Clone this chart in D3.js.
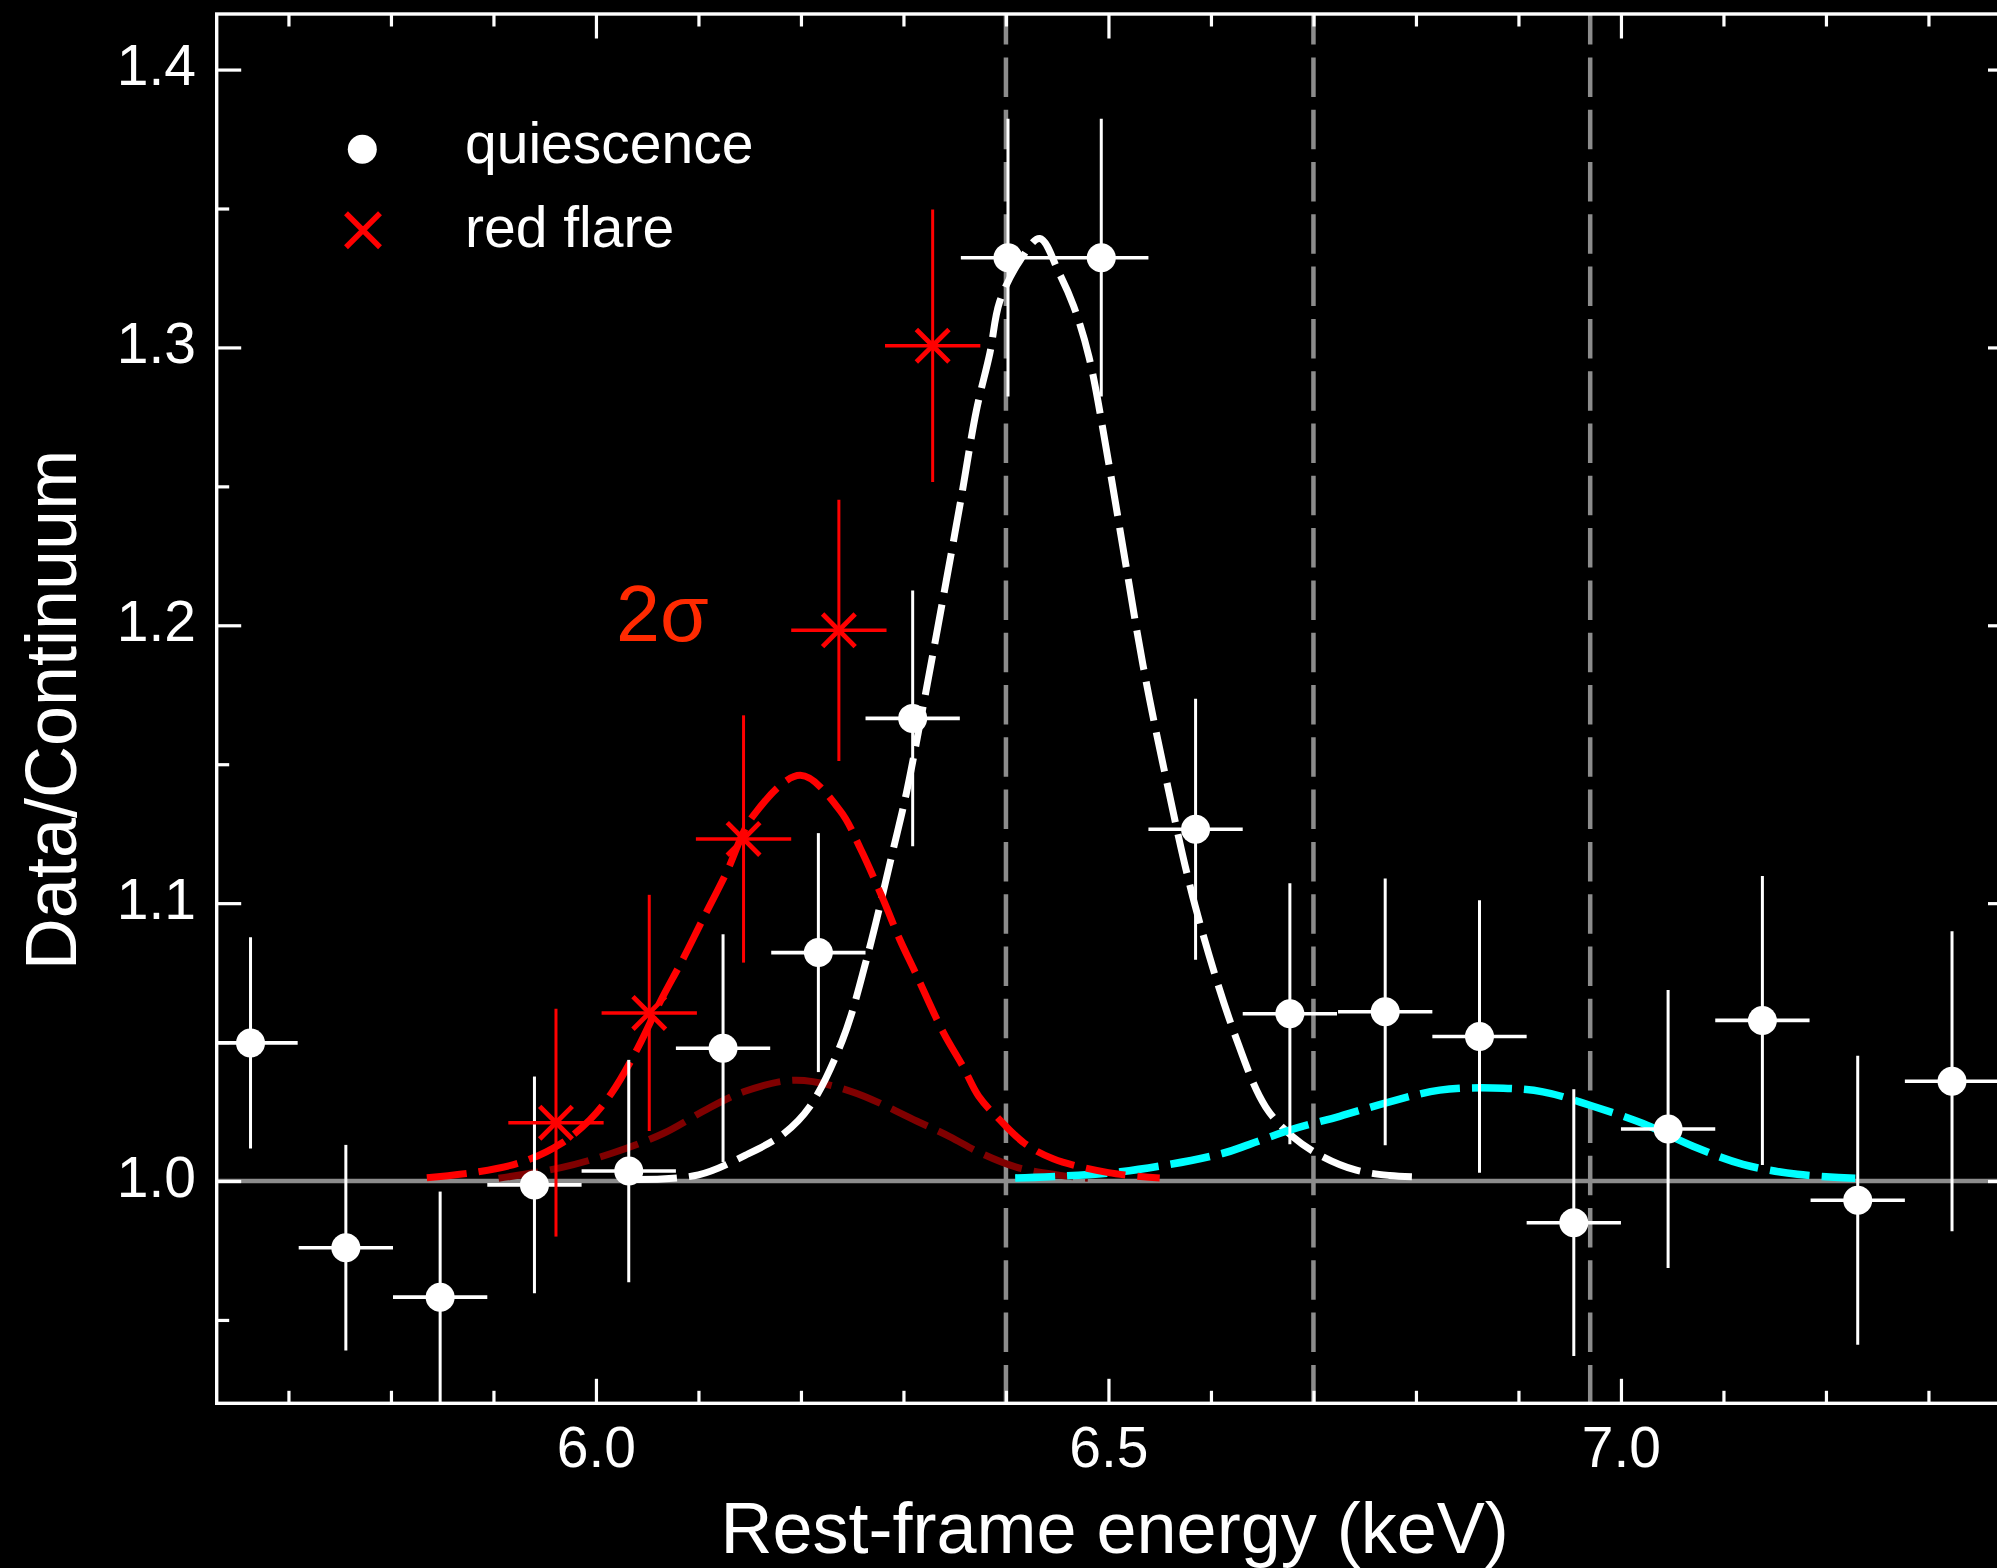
<!DOCTYPE html>
<html><head><meta charset="utf-8">
<script src="https://cdn.jsdelivr.net/npm/d3@7"></script>
<style>html,body{margin:0;padding:0;background:#000;} svg{display:block;}</style>
</head><body>
<svg id="chart" width="1997" height="1568"></svg>
<script>
// ---------------- data ----------------
const quiescenceEnergy = [5.663, 5.756, 5.848, 5.940, 6.032, 6.124, 6.217, 6.309, 6.402, 6.493, 6.585, 6.677, 6.770, 6.862, 6.954, 7.046, 7.138, 7.231, 7.323];
const quiescenceRatio  = [1.0497, 0.9760, 0.9582, 0.9986, 1.0036, 1.0478, 1.0822, 1.1665, 1.3323, 1.3323, 1.1266, 1.0602, 1.0609, 1.0520, 0.9850, 1.0187, 1.0578, 0.9931, 1.0359];
const quiescenceError  = [0.038, 0.037, 0.038, 0.039, 0.040, 0.041, 0.043, 0.046, 0.050, 0.050, 0.047, 0.047, 0.048, 0.049, 0.048, 0.050, 0.052, 0.052, 0.054];
const quiescenceBinHalf = 0.046;

const flareEnergy = [5.961, 6.052, 6.144, 6.237, 6.3285];
const flareRatio  = [1.021, 1.0605, 1.1231, 1.1982, 1.3006];
const flareError  = [0.041, 0.0425, 0.0445, 0.047, 0.049];
const flareBinHalf = 0.0465;

// model curves [energy, ratio]
const quiescenceModel = [[6.04,1.0005],[6.10,1.0022],[6.146,1.0093],[6.1835,1.0171],[6.2085,1.0267],[6.2406,1.0508],[6.2638,1.0795],[6.2898,1.119],[6.3028,1.1395],[6.3233,1.1789],[6.3419,1.2163],[6.356,1.2451],[6.3712,1.2774],[6.3843,1.2979],[6.3938,1.3164],[6.4139,1.3314],[6.433,1.3392],[6.452,1.3267],[6.466,1.3149],[6.481,1.2966],[6.4995,1.26],[6.5165,1.2228],[6.5337,1.1857],[6.554,1.1486],[6.5846,1.099],[6.6238,1.0522],[6.6533,1.0267],[6.680,1.0159],[6.7093,1.0087],[6.7418,1.0039],[6.7743,1.002],[6.802,1.0015]];
const flareModel = [[5.835,1.0012],[5.885,1.0033],[5.9285,1.0069],[5.966,1.0135],[5.994,1.022],[6.015,1.0315],[6.041,1.048],[6.0628,1.0646],[6.0846,1.0797],[6.1033,1.0935],[6.1273,1.111],[6.1535,1.1315],[6.1994,1.146],[6.2378,1.1335],[6.2582,1.1195],[6.28,1.1015],[6.2963,1.0870],[6.311,1.0755],[6.3385,1.0538],[6.3581,1.0412],[6.3734,1.0305],[6.394,1.022],[6.418,1.0136],[6.446,1.008],[6.50,1.003],[6.55,1.0011]];
const flareBroadModel = [[5.905,1.001],[5.966,1.0048],[6.0155,1.0100],[6.065,1.017],[6.1089,1.026],[6.1447,1.0322],[6.1948,1.0363],[6.2493,1.0322],[6.3128,1.0216],[6.345,1.016],[6.375,1.0101],[6.41,1.005],[6.45,1.0022],[6.48,1.001]];
const highModel = [[6.409,1.0011],[6.5117,1.0033],[6.611,1.0099],[6.6377,1.0132],[6.6768,1.0183],[6.7256,1.0233],[6.7744,1.0285],[6.8232,1.0327],[6.8751,1.0335],[6.9239,1.0321],[6.9727,1.0269],[7.0215,1.0207],[7.0703,1.0125],[7.119,1.006],[7.1722,1.0024],[7.2286,1.001]];

const lineEnergies = [6.40, 6.70, 6.97];
const xMajorTicks = [6.0, 6.5, 7.0];
const xMinorTicks = [5.7, 5.8, 5.9, 6.1, 6.2, 6.3, 6.4, 6.6, 6.7, 6.8, 6.9, 7.1, 7.2, 7.3];
const yMajorTicks = [1.0, 1.1, 1.2, 1.3, 1.4];
const yMinorTicks = [0.95, 1.05, 1.15, 1.25, 1.35];
const legendLabels = ["quiescence", "red flare"];

// ---------------- drawing ----------------
const W = 1997, H = 1568;
const L = 216.7, R = 2012.5, T = 14, B = 1403.3;
const FONT = "'Liberation Sans', Arial, Helvetica, sans-serif";

const svg = d3.select('#chart');
svg.append('rect').attr('width', W).attr('height', H).attr('fill', '#000');

const x = d3.scaleLinear().domain([5.63, 7.382]).range([L, R]);
const y = d3.scaleLinear().domain([0.92, 1.42]).range([B, T]);

svg.append('defs').append('clipPath').attr('id', 'plotclip')
  .append('rect').attr('x', L).attr('y', T).attr('width', R - L).attr('height', B - T);

const plot = svg.append('g').attr('clip-path', 'url(#plotclip)');

// reference lines
plot.append('line').attr('x1', L).attr('x2', R).attr('y1', y(1.0)).attr('y2', y(1.0))
  .attr('stroke', '#8c8c8c').attr('stroke-width', 4.5);
plot.selectAll('line.vref').data(lineEnergies).enter().append('line').attr('class', 'vref')
  .attr('x1', d => x(d)).attr('x2', d => x(d)).attr('y1', T).attr('y2', B)
  .attr('stroke', '#8c8c8c').attr('stroke-width', 4.5)
  .attr('stroke-dasharray', '39.5,12.8').attr('stroke-dashoffset', 8.9);

// model curves
const line = d3.line().x(d => x(d[0])).y(d => y(d[1])).curve(d3.curveCatmullRom.alpha(0.5));
function curve(data, color, w) {
  plot.append('path').datum(data).attr('d', line).attr('fill', 'none')
    .attr('stroke', color).attr('stroke-width', w).attr('stroke-dasharray', '40,12');
}
curve(flareBroadModel, '#800000', 7);
curve(quiescenceModel, '#ffffff', 7);
curve(highModel, '#00ffff', 7.5);
curve(flareModel, '#ff0000', 7);

// quiescence data
const qData = quiescenceEnergy.map((e, i) => ({e, v: quiescenceRatio[i], err: quiescenceError[i]}));
const qg = plot.append('g');
qg.selectAll('line.qh').data(qData).enter().append('line')
  .attr('x1', d => x(d.e - quiescenceBinHalf)).attr('x2', d => x(d.e + quiescenceBinHalf))
  .attr('y1', d => y(d.v)).attr('y2', d => y(d.v))
  .attr('stroke', '#fff').attr('stroke-width', 3.6);
qg.selectAll('line.qv').data(qData).enter().append('line')
  .attr('x1', d => x(d.e)).attr('x2', d => x(d.e))
  .attr('y1', d => y(d.v - d.err)).attr('y2', d => y(d.v + d.err))
  .attr('stroke', '#fff').attr('stroke-width', 3);
qg.selectAll('circle').data(qData).enter().append('circle')
  .attr('cx', d => x(d.e)).attr('cy', d => y(d.v)).attr('r', 14.5).attr('fill', '#fff');

// flare data
const fData = flareEnergy.map((e, i) => ({e, v: flareRatio[i], err: flareError[i]}));
const fg = plot.append('g').attr('stroke', '#ff0000');
fg.selectAll('line.fh').data(fData).enter().append('line')
  .attr('x1', d => x(d.e - flareBinHalf)).attr('x2', d => x(d.e + flareBinHalf))
  .attr('y1', d => y(d.v)).attr('y2', d => y(d.v)).attr('stroke-width', 3.5);
fg.selectAll('line.fv').data(fData).enter().append('line')
  .attr('x1', d => x(d.e)).attr('x2', d => x(d.e))
  .attr('y1', d => y(d.v - d.err)).attr('y2', d => y(d.v + d.err)).attr('stroke-width', 3);
const S = 16.3;
fg.selectAll('path.fx').data(fData).enter().append('path')
  .attr('d', d => { const cx = x(d.e), cy = y(d.v);
    return `M${cx - S},${cy - S}L${cx + S},${cy + S}M${cx - S},${cy + S}L${cx + S},${cy - S}`; })
  .attr('fill', 'none').attr('stroke-width', 4.8);

// axes
function styleAxis(g) {
  g.select('.domain').remove();
  g.selectAll('.tick line').attr('stroke', '#fff').attr('stroke-width', 3.2);
  g.selectAll('text').attr('fill', '#fff').style('font-family', FONT).style('font-size', '57px');
}
svg.append('g').attr('transform', `translate(0,${B})`)
  .call(d3.axisBottom(x).tickValues(xMajorTicks).tickSize(-24.5).tickFormat(d3.format('.1f')))
  .call(styleAxis)
  .call(g => g.selectAll('text').attr('dy', null).attr('y', 64.2));
svg.append('g').attr('transform', `translate(0,${B})`)
  .call(d3.axisBottom(x).tickValues(xMinorTicks).tickSize(-12.5).tickFormat('')).call(styleAxis);
svg.append('g').attr('transform', `translate(0,${T})`)
  .call(d3.axisTop(x).tickValues(xMajorTicks).tickSize(-24.5).tickFormat('')).call(styleAxis);
svg.append('g').attr('transform', `translate(0,${T})`)
  .call(d3.axisTop(x).tickValues(xMinorTicks).tickSize(-12.5).tickFormat('')).call(styleAxis);
svg.append('g').attr('transform', `translate(${L},0)`)
  .call(d3.axisLeft(y).tickValues(yMajorTicks).tickSize(-24.5).tickPadding(20.7).tickFormat(d3.format('.1f')))
  .call(styleAxis)
  .call(g => g.selectAll('text').attr('dy', 15.3));
svg.append('g').attr('transform', `translate(${L},0)`)
  .call(d3.axisLeft(y).tickValues(yMinorTicks).tickSize(-12.5).tickFormat('')).call(styleAxis);
svg.append('g').attr('transform', `translate(${R},0)`)
  .call(d3.axisRight(y).tickValues(yMajorTicks).tickSize(-24.5).tickFormat('')).call(styleAxis);
svg.append('g').attr('transform', `translate(${R},0)`)
  .call(d3.axisRight(y).tickValues(yMinorTicks).tickSize(-12.5).tickFormat('')).call(styleAxis);

svg.append('rect').attr('x', L).attr('y', T).attr('width', R - L).attr('height', B - T)
  .attr('fill', 'none').attr('stroke', '#fff').attr('stroke-width', 3.4);

// axis titles
svg.append('text').attr('x', (L + R) / 2).attr('y', 1553).attr('text-anchor', 'middle')
  .attr('fill', '#fff').style('font-family', FONT).style('font-size', '72px')
  .text('Rest-frame energy (keV)');
svg.append('text').attr('transform', 'translate(76,710) rotate(-90)').attr('text-anchor', 'middle')
  .attr('fill', '#fff').style('font-family', FONT).style('font-size', '72px')
  .text('Data/Continuum');

// legend
svg.append('circle').attr('cx', 362.3).attr('cy', 149.3).attr('r', 14.5).attr('fill', '#fff');
svg.append('path').attr('d', 'M346,213.3L380,247.3M346,247.3L380,213.3')
  .attr('stroke', '#ff0000').attr('stroke-width', 5.5).attr('fill', 'none');
svg.selectAll('text.leg').data(legendLabels).enter().append('text').attr('class', 'leg')
  .attr('x', 465).attr('y', (d, i) => i === 0 ? 163.3 : 246.7)
  .attr('fill', '#fff').style('font-family', FONT).style('font-size', '57px').text(d => d);

// annotation
svg.append('text').attr('x', 616).attr('y', 640.7).attr('fill', '#ff2a00')
  .style('font-family', "'Liberation Sans', Arial, sans-serif").style('font-size', '79px').text('2σ');
</script>
</body></html>
